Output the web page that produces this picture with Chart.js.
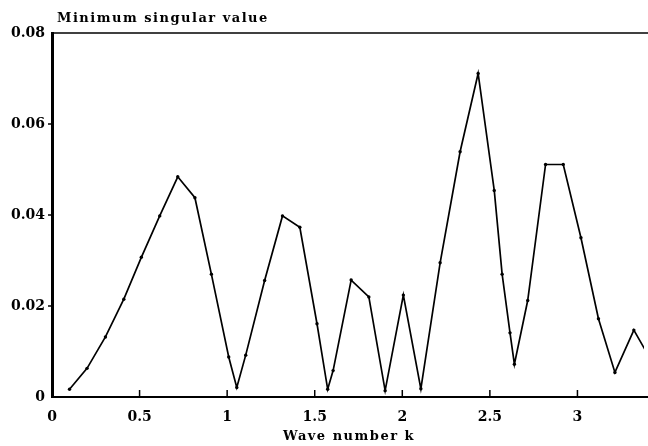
<!DOCTYPE html>
<html>
<head>
<meta charset="utf-8">
<script src="https://cdn.jsdelivr.net/npm/chart.js@4/dist/chart.umd.min.js"></script>
<style>
  body { margin: 0; background: #fff; }
  canvas { display: block; }
</style>
</head>
<body>
<canvas id="chart" width="648" height="446"></canvas>
<script>
// wave number k
const waveNumbers = [0.10, 0.20, 0.305, 0.41, 0.51, 0.615, 0.718, 0.816, 0.91, 1.009,
  1.055, 1.106, 1.214, 1.316, 1.415, 1.513, 1.574, 1.605, 1.708, 1.809,
  1.902, 2.006, 2.106, 2.216, 2.33, 2.433, 2.525, 2.57, 2.615, 2.64,
  2.716, 2.818, 2.919, 3.02, 3.12, 3.214, 3.322, 3.42]
// minimum singular value
const minSingular = [0.0017, 0.0063, 0.0132, 0.0215, 0.0307, 0.0398, 0.0484, 0.0438, 0.027, 0.0088,
  0.0021, 0.0092, 0.0256, 0.0398, 0.0373, 0.0161, 0.0017, 0.0058, 0.0257, 0.022,
  0.0014, 0.0224, 0.0018, 0.0295, 0.0539, 0.0711, 0.0454, 0.027, 0.0141, 0.0072,
  0.0212, 0.0511, 0.0511, 0.035, 0.0172, 0.0054, 0.0147, 0.0081]

const xTicks = [0, 0.5, 1, 1.5, 2, 2.5, 3]
const yTicks = [0, 0.02, 0.04, 0.06, 0.08]

const fontFamily = "'DejaVu Serif', serif"

let points = []
for (let i = 0; i < waveNumbers.length; i++) {
    points.push({ x: waveNumbers[i], y: minSingular[i] })
}

function fmt(v) {
    return String(Number(v.toFixed(2)))
}

// frame, tick marks and the two axis labels
const framePlugin = {
    id: 'frame',
    afterDraw(chart) {
        const ctx = chart.ctx
        const a = chart.chartArea
        const xs = chart.scales.x
        const ys = chart.scales.y
        ctx.save()
        ctx.strokeStyle = '#000'
        ctx.lineCap = 'butt'

        ctx.lineWidth = 1.5
        ctx.beginPath()
        ctx.moveTo(a.left, a.top)
        ctx.lineTo(chart.width, a.top)
        ctx.stroke()

        ctx.lineWidth = 2
        ctx.beginPath()
        ctx.moveTo(a.left, a.bottom)
        ctx.lineTo(chart.width, a.bottom)
        ctx.stroke()

        ctx.lineWidth = 3
        ctx.beginPath()
        ctx.moveTo(a.left + 0.5, a.top - 1)
        ctx.lineTo(a.left + 0.5, a.bottom + 1)
        ctx.stroke()

        ctx.lineWidth = 1.5
        xTicks.forEach(function (v) {
            if (v === 0) return
            const px = xs.getPixelForValue(v)
            ctx.beginPath()
            ctx.moveTo(px, a.bottom)
            ctx.lineTo(px, a.bottom - 7)
            ctx.stroke()
        })
        yTicks.forEach(function (v) {
            if (v === 0 || v === 0.08) return
            const py = ys.getPixelForValue(v)
            ctx.beginPath()
            ctx.moveTo(a.left, py)
            ctx.lineTo(a.left - 4, py)
            ctx.stroke()
        })

        ctx.fillStyle = '#000'
        ctx.font = 'bold 13px ' + fontFamily
        ctx.letterSpacing = '1.5px'
        ctx.textBaseline = 'middle'
        ctx.textAlign = 'left'
        ctx.fillText('Minimum singular value', 57, 19)
        ctx.textAlign = 'center'
        ctx.fillText('Wave number k', (a.left + a.right) / 2 + 1, 437)
        ctx.restore()
    }
}

new Chart(document.getElementById('chart'), {
    type: 'scatter',
    data: {
        datasets: [{
            data: points,
            showLine: true,
            borderColor: '#000',
            backgroundColor: '#000',
            borderWidth: 1.7,
            pointRadius: 1.7,
            pointBorderWidth: 0,
            tension: 0
        }]
    },
    options: {
        responsive: false,
        animation: false,
        layout: { padding: { top: 33, right: 0, left: 0, bottom: 0 } },
        plugins: {
            legend: { display: false },
            tooltip: { enabled: false }
        },
        scales: {
            x: {
                type: 'linear',
                min: 0,
                max: 3.38,
                afterFit: function (scale) { scale.height = 49 },
                afterBuildTicks: function (scale) {
                    scale.ticks = xTicks.map(v => ({ value: v }))
                },
                grid: { display: false, drawTicks: false },
                border: { display: false },
                ticks: {
                    padding: 12,
                    color: '#000',
                    maxRotation: 0,
                    autoSkip: false,
                    font: { family: fontFamily, size: 14, weight: 'bold' },
                    callback: v => fmt(v)
                }
            },
            y: {
                min: 0,
                max: 0.08,
                afterFit: function (scale) { scale.width = 52 },
                afterBuildTicks: function (scale) {
                    scale.ticks = yTicks.map(v => ({ value: v }))
                },
                grid: { display: false, drawTicks: false },
                border: { display: false },
                ticks: {
                    padding: 7,
                    color: '#000',
                    font: { family: fontFamily, size: 14, weight: 'bold' },
                    callback: v => fmt(v)
                }
            }
        }
    },
    plugins: [framePlugin]
});
</script>
</body>
</html>
